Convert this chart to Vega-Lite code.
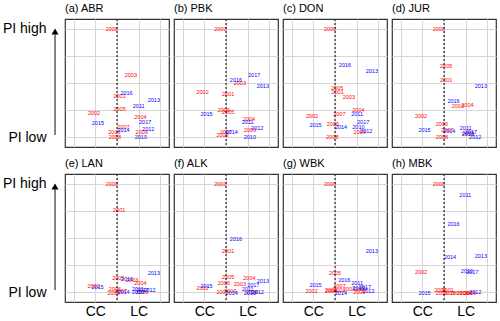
{
 "$schema": "https://vega.github.io/schema/vega-lite/v6.json",
 "padding": {"left": 2, "top": 1, "right": 3, "bottom": 0},
 "bounds": "flush",
 "background": "white",
 "data": {"values": [
  {"p":"(a) ABR","year":2000,"x":1.38,"y":1.0},
  {"p":"(a) ABR","year":2001,"x":1.56,"y":0.38},
  {"p":"(a) ABR","year":2002,"x":0.97,"y":0.22},
  {"p":"(a) ABR","year":2003,"x":1.82,"y":0.57},
  {"p":"(a) ABR","year":2004,"x":2.04,"y":0.19},
  {"p":"(a) ABR","year":2005,"x":1.56,"y":0.26},
  {"p":"(a) ABR","year":2006,"x":1.44,"y":0.05},
  {"p":"(a) ABR","year":2007,"x":1.65,"y":0.095},
  {"p":"(a) ABR","year":2008,"x":1.45,"y":0.0},
  {"p":"(a) ABR","year":2009,"x":2.07,"y":0.05},
  {"p":"(a) ABR","year":2010,"x":2.05,"y":0.0},
  {"p":"(a) ABR","year":2011,"x":2.0,"y":0.29},
  {"p":"(a) ABR","year":2012,"x":2.22,"y":0.08},
  {"p":"(a) ABR","year":2013,"x":2.35,"y":0.34},
  {"p":"(a) ABR","year":2014,"x":1.65,"y":0.07},
  {"p":"(a) ABR","year":2015,"x":1.06,"y":0.13},
  {"p":"(a) ABR","year":2016,"x":1.72,"y":0.41},
  {"p":"(a) ABR","year":2017,"x":2.15,"y":0.145},
  {"p":"(b) PBK","year":2000,"x":1.37,"y":1.0},
  {"p":"(b) PBK","year":2001,"x":1.55,"y":0.4},
  {"p":"(b) PBK","year":2002,"x":0.96,"y":0.42},
  {"p":"(b) PBK","year":2003,"x":1.82,"y":0.5},
  {"p":"(b) PBK","year":2004,"x":2.03,"y":0.165},
  {"p":"(b) PBK","year":2005,"x":1.55,"y":0.235},
  {"p":"(b) PBK","year":2006,"x":1.45,"y":0.255},
  {"p":"(b) PBK","year":2007,"x":1.5,"y":0.045},
  {"p":"(b) PBK","year":2008,"x":1.42,"y":0.02},
  {"p":"(b) PBK","year":2009,"x":2.05,"y":0.07},
  {"p":"(b) PBK","year":2010,"x":2.05,"y":0.0},
  {"p":"(b) PBK","year":2011,"x":2.0,"y":0.14},
  {"p":"(b) PBK","year":2012,"x":2.22,"y":0.085},
  {"p":"(b) PBK","year":2013,"x":2.35,"y":0.47},
  {"p":"(b) PBK","year":2014,"x":1.63,"y":0.05},
  {"p":"(b) PBK","year":2015,"x":1.05,"y":0.21},
  {"p":"(b) PBK","year":2016,"x":1.73,"y":0.53},
  {"p":"(b) PBK","year":2017,"x":2.15,"y":0.575},
  {"p":"(c) DON","year":2000,"x":1.385,"y":1.0},
  {"p":"(c) DON","year":2001,"x":1.56,"y":0.415},
  {"p":"(c) DON","year":2002,"x":0.97,"y":0.195},
  {"p":"(c) DON","year":2003,"x":1.82,"y":0.375},
  {"p":"(c) DON","year":2004,"x":2.04,"y":0.255},
  {"p":"(c) DON","year":2005,"x":1.55,"y":0.455},
  {"p":"(c) DON","year":2006,"x":1.45,"y":0.12},
  {"p":"(c) DON","year":2007,"x":1.6,"y":0.21},
  {"p":"(c) DON","year":2008,"x":1.44,"y":0.0},
  {"p":"(c) DON","year":2009,"x":2.07,"y":0.045},
  {"p":"(c) DON","year":2010,"x":2.04,"y":0.095},
  {"p":"(c) DON","year":2011,"x":2.01,"y":0.21},
  {"p":"(c) DON","year":2012,"x":2.22,"y":0.06},
  {"p":"(c) DON","year":2013,"x":2.35,"y":0.615},
  {"p":"(c) DON","year":2014,"x":1.64,"y":0.095},
  {"p":"(c) DON","year":2015,"x":1.05,"y":0.11},
  {"p":"(c) DON","year":2016,"x":1.73,"y":0.665},
  {"p":"(c) DON","year":2017,"x":2.15,"y":0.14},
  {"p":"(d) JUR","year":2000,"x":1.38,"y":1.0},
  {"p":"(d) JUR","year":2001,"x":1.55,"y":0.525},
  {"p":"(d) JUR","year":2002,"x":0.97,"y":0.2},
  {"p":"(d) JUR","year":2003,"x":1.82,"y":0.285},
  {"p":"(d) JUR","year":2004,"x":2.04,"y":0.3},
  {"p":"(d) JUR","year":2005,"x":1.55,"y":0.655},
  {"p":"(d) JUR","year":2006,"x":1.45,"y":0.125},
  {"p":"(d) JUR","year":2007,"x":1.58,"y":0.065},
  {"p":"(d) JUR","year":2008,"x":1.45,"y":0.005},
  {"p":"(d) JUR","year":2009,"x":2.06,"y":0.04},
  {"p":"(d) JUR","year":2010,"x":2.05,"y":0.03},
  {"p":"(d) JUR","year":2011,"x":2.0,"y":0.085},
  {"p":"(d) JUR","year":2012,"x":2.22,"y":0.0},
  {"p":"(d) JUR","year":2013,"x":2.35,"y":0.47},
  {"p":"(d) JUR","year":2014,"x":1.62,"y":0.055},
  {"p":"(d) JUR","year":2015,"x":1.05,"y":0.07},
  {"p":"(d) JUR","year":2016,"x":1.72,"y":0.33},
  {"p":"(d) JUR","year":2017,"x":2.12,"y":0.045},
  {"p":"(e) LAN","year":2000,"x":1.38,"y":1.0},
  {"p":"(e) LAN","year":2001,"x":1.55,"y":0.755},
  {"p":"(e) LAN","year":2002,"x":0.96,"y":0.06},
  {"p":"(e) LAN","year":2003,"x":1.85,"y":0.115},
  {"p":"(e) LAN","year":2004,"x":2.04,"y":0.085},
  {"p":"(e) LAN","year":2005,"x":1.53,"y":0.13},
  {"p":"(e) LAN","year":2006,"x":1.45,"y":0.03},
  {"p":"(e) LAN","year":2007,"x":1.59,"y":0.01},
  {"p":"(e) LAN","year":2008,"x":1.42,"y":-0.01},
  {"p":"(e) LAN","year":2009,"x":2.08,"y":0.0},
  {"p":"(e) LAN","year":2010,"x":1.98,"y":0.005},
  {"p":"(e) LAN","year":2011,"x":1.98,"y":0.03},
  {"p":"(e) LAN","year":2012,"x":2.25,"y":0.02},
  {"p":"(e) LAN","year":2013,"x":2.35,"y":0.18},
  {"p":"(e) LAN","year":2014,"x":1.65,"y":0.0},
  {"p":"(e) LAN","year":2015,"x":1.05,"y":0.045},
  {"p":"(e) LAN","year":2016,"x":1.73,"y":0.12},
  {"p":"(e) LAN","year":2017,"x":2.09,"y":0.02},
  {"p":"(f) ALK","year":2000,"x":1.37,"y":1.0},
  {"p":"(f) ALK","year":2001,"x":1.55,"y":0.38},
  {"p":"(f) ALK","year":2002,"x":0.96,"y":0.035},
  {"p":"(f) ALK","year":2003,"x":1.82,"y":0.075},
  {"p":"(f) ALK","year":2004,"x":2.04,"y":0.13},
  {"p":"(f) ALK","year":2005,"x":1.55,"y":0.14},
  {"p":"(f) ALK","year":2006,"x":1.45,"y":0.085},
  {"p":"(f) ALK","year":2007,"x":1.42,"y":0.0},
  {"p":"(f) ALK","year":2008,"x":2.1,"y":0.005},
  {"p":"(f) ALK","year":2009,"x":1.6,"y":0.01},
  {"p":"(f) ALK","year":2010,"x":2.05,"y":-0.01},
  {"p":"(f) ALK","year":2011,"x":2.0,"y":0.03},
  {"p":"(f) ALK","year":2012,"x":2.23,"y":0.0},
  {"p":"(f) ALK","year":2013,"x":2.35,"y":0.1},
  {"p":"(f) ALK","year":2014,"x":1.63,"y":-0.005},
  {"p":"(f) ALK","year":2015,"x":1.05,"y":0.055},
  {"p":"(f) ALK","year":2016,"x":1.73,"y":0.49},
  {"p":"(f) ALK","year":2017,"x":2.13,"y":0.07},
  {"p":"(g) WBK","year":2000,"x":1.385,"y":1.0},
  {"p":"(g) WBK","year":2001,"x":1.6,"y":0.025},
  {"p":"(g) WBK","year":2002,"x":0.96,"y":0.012},
  {"p":"(g) WBK","year":2003,"x":1.83,"y":0.028},
  {"p":"(g) WBK","year":2004,"x":2.1,"y":0.03},
  {"p":"(g) WBK","year":2005,"x":1.5,"y":0.175},
  {"p":"(g) WBK","year":2006,"x":1.41,"y":0.025},
  {"p":"(g) WBK","year":2007,"x":1.6,"y":0.062},
  {"p":"(g) WBK","year":2008,"x":1.41,"y":0.012},
  {"p":"(g) WBK","year":2009,"x":2.06,"y":0.0},
  {"p":"(g) WBK","year":2010,"x":2.04,"y":0.043},
  {"p":"(g) WBK","year":2011,"x":2.01,"y":0.086},
  {"p":"(g) WBK","year":2012,"x":2.27,"y":0.012},
  {"p":"(g) WBK","year":2013,"x":2.35,"y":0.38},
  {"p":"(g) WBK","year":2014,"x":1.64,"y":-0.01},
  {"p":"(g) WBK","year":2015,"x":1.05,"y":0.068},
  {"p":"(g) WBK","year":2016,"x":1.715,"y":0.11},
  {"p":"(g) WBK","year":2017,"x":2.19,"y":0.05},
  {"p":"(h) MBK","year":2000,"x":1.38,"y":1.0},
  {"p":"(h) MBK","year":2001,"x":1.585,"y":0.02},
  {"p":"(h) MBK","year":2002,"x":0.97,"y":0.185},
  {"p":"(h) MBK","year":2003,"x":1.62,"y":-0.005},
  {"p":"(h) MBK","year":2004,"x":1.93,"y":-0.005},
  {"p":"(h) MBK","year":2005,"x":1.415,"y":0.02},
  {"p":"(h) MBK","year":2006,"x":1.45,"y":-0.005},
  {"p":"(h) MBK","year":2007,"x":1.78,"y":-0.005},
  {"p":"(h) MBK","year":2008,"x":2.01,"y":-0.005},
  {"p":"(h) MBK","year":2009,"x":2.1,"y":-0.005},
  {"p":"(h) MBK","year":2010,"x":2.03,"y":0.195},
  {"p":"(h) MBK","year":2011,"x":1.99,"y":0.9},
  {"p":"(h) MBK","year":2012,"x":2.22,"y":0.0},
  {"p":"(h) MBK","year":2013,"x":2.35,"y":0.335},
  {"p":"(h) MBK","year":2014,"x":1.64,"y":0.325},
  {"p":"(h) MBK","year":2015,"x":1.05,"y":-0.01},
  {"p":"(h) MBK","year":2016,"x":1.72,"y":0.63},
  {"p":"(h) MBK","year":2017,"x":2.15,"y":0.19}
 ]},
 "facet": {
  "field": "p", "type": "nominal",
  "sort": ["(a) ABR","(b) PBK","(c) DON","(d) JUR","(e) LAN","(f) ALK","(g) WBK","(h) MBK"],
  "header": {"title": null, "labelFontSize": 11, "labelFont": "Liberation Sans", "labelColor": "black", "labelAnchor": "start", "labelPadding": 5, "labelExpr": "'\u00a0\u00a0\u00a0' + datum.label"}
 },
 "columns": 4,
 "spacing": {"row": 27, "column": 5},
 "spec": {
  "width": 104, "height": 128,
  "layer": [
   {
    "mark": {"type": "text", "fontSize": 5.5, "font": "Liberation Sans"},
    "encoding": {
     "x": {"field": "x", "type": "quantitative",
      "scale": {"domain": [0.3, 2.7], "nice": false, "zero": false},
      "axis": {"title": null, "values": [0.5, 1, 1.5, 2, 2.5], "tickCount": 20, "labelExpr": "datum.value == 1 ? 'CC' : datum.value == 2 ? 'LC' : ''", "ticks": false, "tickSize": 0, "domain": false, "labelFontSize": 14, "labelFont": "Liberation Sans", "labelColor": "black", "labelPadding": 2, "labelFlush": false, "labelOverlap": false, "grid": true, "gridColor": "#d6d6d6", "gridWidth": 1}},
     "y": {"field": "y", "type": "quantitative",
      "scale": {"domain": [-0.09, 1.09], "nice": false, "zero": false},
      "axis": {"title": null, "values": [0, 0.25, 0.5, 0.75, 1], "tickCount": 20, "labelExpr": "datum.value == 1 ? 'PI high' : datum.value == 0 ? 'PI low' : ''", "ticks": false, "tickSize": 0, "domain": false, "labelFontSize": 14, "labelFont": "Liberation Sans", "labelColor": "black", "labelPadding": 19, "labelOverlap": false, "grid": true, "gridColor": "#d6d6d6", "gridWidth": 1}},
     "text": {"field": "year", "type": "nominal"},
     "color": {"condition": {"test": "datum.year < 2010", "value": "red"}, "value": "blue"}
    }
   },
   {
    "transform": [{"aggregate": [{"op": "count", "as": "n"}], "groupby": ["p"]}],
    "mark": {"type": "rule", "strokeDash": [2, 2], "color": "black", "strokeWidth": 1},
    "encoding": {"x": {"datum": 1.5, "type": "quantitative"}}
   },
   {
    "transform": [{"filter": "datum.p == '(a) ABR' || datum.p == '(e) LAN'"}, {"aggregate": [{"op": "count", "as": "n"}], "groupby": ["p"]}],
    "mark": {"type": "rule", "color": "#333333", "strokeWidth": 1.2},
    "encoding": {"x": {"datum": 0.07, "type": "quantitative"}, "y": {"datum": 0.02, "type": "quantitative"}, "y2": {"datum": 0.95}}
   },
   {
    "transform": [{"filter": "datum.p == '(a) ABR' || datum.p == '(e) LAN'"}, {"aggregate": [{"op": "count", "as": "n"}], "groupby": ["p"]}],
    "mark": {"type": "point", "shape": "triangle-up", "filled": true, "color": "black", "size": 50, "opacity": 1},
    "encoding": {"x": {"datum": 0.07, "type": "quantitative"}, "y": {"datum": 0.975, "type": "quantitative"}}
   }
  ]
 },
 "config": {"view": {"stroke": "#333333", "strokeWidth": 1.2}, "font": "Liberation Sans"}
}
